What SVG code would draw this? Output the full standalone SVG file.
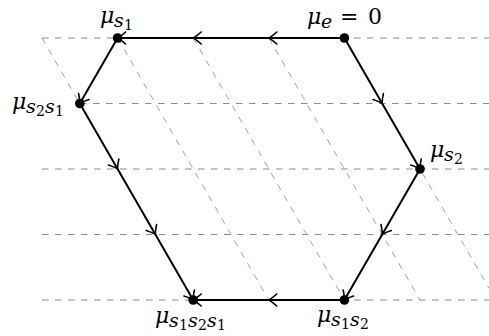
<svg xmlns="http://www.w3.org/2000/svg" width="489" height="336" viewBox="0 0 489 336">
<style>
.h{stroke:#8c8c8c;stroke-width:1.2;stroke-dasharray:6.5 6.5;fill:none}
.d{stroke:#9a9a9a;stroke-width:0.9;stroke-dasharray:6.5 6.5;fill:none}
.e{stroke:#000;stroke-width:2;fill:none;marker-end:url(#ar)}
.n{fill:#000}
.m{font-style:italic}
.s{font-size:19px;font-style:italic}
.ss{font-size:14px;font-style:normal}
</style>
<defs>
<marker id="ar" markerUnits="userSpaceOnUse" markerWidth="20" markerHeight="20" viewBox="-10 -10 20 20" refX="0" refY="0" orient="auto">
<path d="M-8,-6 Q-2.5,-1.2 0,0 Q-2.5,1.2 -8,6" stroke="#000" stroke-width="1.6" fill="none" stroke-linecap="round"/>
</marker>
</defs>
<g id="grid">
<line class="h" x1="42" y1="38" x2="489" y2="38"/>
<line class="h" x1="80" y1="103.5" x2="489" y2="103.5"/>
<line class="h" x1="42" y1="169" x2="489" y2="169"/>
<line class="h" x1="42" y1="234.5" x2="489" y2="234.5"/>
<line class="h" x1="42" y1="300" x2="489" y2="300"/>
<line class="d" x1="42" y1="38" x2="193.2" y2="300"/>
<line class="d" x1="117.6" y1="38" x2="268.8" y2="300"/>
<line class="d" x1="193.2" y1="38" x2="344.4" y2="300"/>
<line class="d" x1="268.8" y1="38" x2="420" y2="300"/>
<line class="d" x1="344.4" y1="38" x2="489" y2="288.4"/>
</g>
<g id="connectors">
<line class="e" x1="344.4" y1="38" x2="268.8" y2="38"/>
<line class="e" x1="268.8" y1="38" x2="193.2" y2="38"/>
<line class="e" x1="193.2" y1="38" x2="117.6" y2="38"/>
<line class="e" x1="117.6" y1="38" x2="79.8" y2="103.5"/>
<line class="e" x1="79.8" y1="103.5" x2="117.6" y2="169"/>
<line class="e" x1="117.6" y1="169" x2="155.4" y2="234.5"/>
<line class="e" x1="155.4" y1="234.5" x2="193.2" y2="300"/>
<line class="e" x1="344.4" y1="38" x2="382.2" y2="103.5"/>
<line class="e" x1="382.2" y1="103.5" x2="420" y2="169"/>
<line class="e" x1="420" y1="169" x2="382.2" y2="234.5"/>
<line class="e" x1="382.2" y1="234.5" x2="344.4" y2="300"/>
<line class="e" x1="344.4" y1="300" x2="268.8" y2="300"/>
<line class="e" x1="268.8" y1="300" x2="193.2" y2="300"/>
</g>
<g font-family="DejaVu Serif, serif" font-size="22" fill="#000">
<g id="node-e"><circle class="n" cx="344.4" cy="38" r="4.8"/><text y="24"><tspan class="m" x="307">μ</tspan><tspan class="s" x="321" dy="4">e</tspan><tspan x="340" dy="-4">=</tspan><tspan x="368">0</tspan></text></g>
<g id="node-s1"><circle class="n" cx="117.6" cy="38" r="4.8"/><text y="23"><tspan class="m" x="100">μ</tspan><tspan class="s" x="114" dy="4">s</tspan><tspan class="ss" x="124" dy="3">1</tspan></text></g>
<g id="node-s2s1"><circle class="n" cx="79.8" cy="103.5" r="4.8"/><text y="109"><tspan class="m" x="12">μ</tspan><tspan class="s" x="26" dy="4">s</tspan><tspan class="ss" x="36" dy="3">2</tspan><tspan class="s" x="45" dy="-3">s</tspan><tspan class="ss" x="55" dy="3">1</tspan></text></g>
<g id="node-s2"><circle class="n" cx="420" cy="169" r="4.8"/><text y="157"><tspan class="m" x="430">μ</tspan><tspan class="s" x="444" dy="4">s</tspan><tspan class="ss" x="454" dy="3">2</tspan></text></g>
<g id="node-s1s2"><circle class="n" cx="344.4" cy="300" r="4.8"/><text y="322"><tspan class="m" x="317">μ</tspan><tspan class="s" x="331" dy="4">s</tspan><tspan class="ss" x="341" dy="3">1</tspan><tspan class="s" x="350" dy="-3">s</tspan><tspan class="ss" x="360" dy="3">2</tspan></text></g>
<g id="node-s1s2s1"><circle class="n" cx="193.2" cy="300" r="4.8"/><text y="323"><tspan class="m" x="155">μ</tspan><tspan class="s" x="169" dy="4">s</tspan><tspan class="ss" x="179" dy="3">1</tspan><tspan class="s" x="188" dy="-3">s</tspan><tspan class="ss" x="198" dy="3">2</tspan><tspan class="s" x="207" dy="-3">s</tspan><tspan class="ss" x="217" dy="3">1</tspan></text></g>
</g>
</svg>
